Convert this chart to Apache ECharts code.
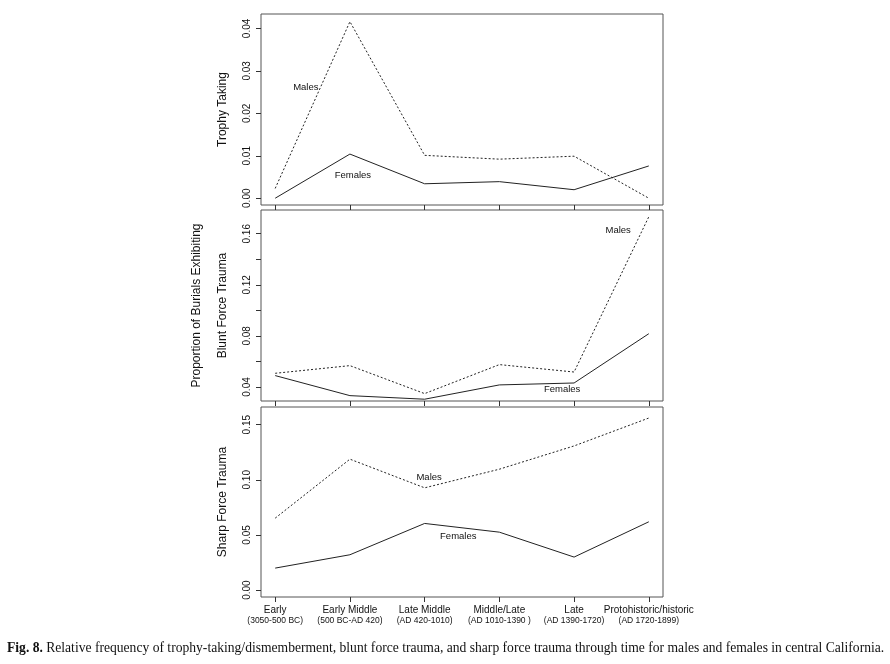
<!DOCTYPE html>
<html><head><meta charset="utf-8">
<script src="https://cdn.jsdelivr.net/npm/echarts@6/dist/echarts.min.js"></script>
<style>html,body{margin:0;padding:0;background:#fff}#c{width:890px;height:664px}</style>
</head><body><div id="c"></div>
<script>
const periods = ['Early','Early Middle','Late Middle','Middle/Late','Late','Protohistoric/historic'];
const periodDates = ['(3050-500 BC)','(500 BC-AD 420)','(AD 420-1010)','(AD 1010-1390 )','(AD 1390-1720)','(AD 1720-1899)'];

const trophyMales   = [0.0023, 0.0416, 0.0101, 0.0092, 0.0099, 0.0000];
const trophyFemales = [0.0000, 0.0104, 0.0034, 0.0039, 0.0020, 0.0076];

const bluntMales    = [0.0507, 0.0567, 0.0348, 0.0575, 0.0517, 0.1733];
const bluntFemales  = [0.0489, 0.0332, 0.0304, 0.0416, 0.0431, 0.0817];

const sharpMales    = [0.0652, 0.1187, 0.0927, 0.1096, 0.1307, 0.1560];
const sharpFemales  = [0.0199, 0.0320, 0.0604, 0.0525, 0.0299, 0.0619];

const trophyTicks = [0, 0.01, 0.02, 0.03, 0.04];
const bluntTicks  = [0.04, 0.06, 0.08, 0.10, 0.12, 0.14, 0.16];
const bluntLabels = [0.04, 0.08, 0.12, 0.16];
const sharpTicks  = [0, 0.05, 0.10, 0.15];

// annotation anchors in data units [periodIndex, value]
const trophyMaleLbl = [0.41, 0.026],  trophyFemaleLbl = [1.04, 0.0053];
const bluntMaleLbl  = [4.59, 0.1624], bluntFemaleLbl  = [3.84, 0.0379];
const sharpMaleLbl  = [2.06, 0.102],  sharpFemaleLbl  = [2.45, 0.0483];

const FONT = 'Liberation Sans';
const ink = '#222';
const idx = periods.map((_, i) => i);

const grids = [
  {left: 261, right: 227, top: 14, height: 191},
  {left: 261, right: 227, top: 210, height: 191},
  {left: 261, right: 227, top: 407, height: 190}
];
const gridStyle = {show: true, borderColor: '#555', borderWidth: 1, backgroundColor: 'transparent'};

function xAxis(gi, labels, fontSize, margin, ticks) {
  return {
    type: 'value', gridIndex: gi, min: -0.19, max: 5.19, position: 'bottom',
    axisLine: {show: false, onZero: false}, splitLine: {show: false},
    axisTick: {show: ticks, length: 5, customValues: idx, lineStyle: {color: '#333'}},
    axisLabel: labels ? {
      show: true, customValues: idx, margin: margin, hideOverlap: false,
      showMinLabel: true, showMaxLabel: true,
      fontFamily: FONT, fontSize: fontSize, color: '#111',
      formatter: v => labels[Math.round(v)]
    } : {show: false}
  };
}
function yAxis(gi, min, max, ticks, labels, name, nameGap, digits) {
  return {
    type: 'value', gridIndex: gi, min: min, max: max,
    axisLine: {show: false, onZero: false}, splitLine: {show: false},
    axisTick: {show: true, length: 5, customValues: ticks, lineStyle: {color: '#333'}},
    axisLabel: {show: true, customValues: labels, rotate: 90, margin: 9,
      hideOverlap: false, showMinLabel: true, showMaxLabel: true,
      fontFamily: FONT, fontSize: 10, color: '#111',
      formatter: v => v.toFixed(digits)},
    name: name, nameLocation: 'middle', nameRotate: 90, nameGap: nameGap,
    nameMoveOverlap: false,
    nameTextStyle: {fontFamily: FONT, fontSize: 12, color: '#111', lineHeight: 26}
  };
}
function pairs(arr) { return arr.map((v, i) => [i, v]); }
function series(gi, data, dotted, lbl, text) {
  return {
    type: 'line', xAxisIndex: gi, yAxisIndex: gi, data: pairs(data),
    symbol: 'none', silent: true, animation: false,
    lineStyle: {color: ink, width: 1, type: dotted ? [2, 2] : 'solid'},
    markPoint: {
      symbol: 'circle', symbolSize: 0, silent: true, animation: false,
      label: {show: true, position: 'inside', formatter: text,
        fontFamily: FONT, fontSize: 9.5, color: '#111'},
      data: [{coord: lbl}]
    }
  };
}

const chart = echarts.init(document.getElementById('c'), null, {renderer: 'canvas'});
chart.setOption({
  animation: false,
  backgroundColor: '#fff',
  grid: grids.map(g => Object.assign({}, g, gridStyle)),
  xAxis: [
    xAxis(0, null, 10, 8, true),
    xAxis(1, null, 10, 8, true),
    xAxis(2, periods, 10, 8, true),
    xAxis(2, periodDates, 8.5, 19, false)
  ],
  yAxis: [
    yAxis(0, -0.0016, 0.0434, trophyTicks, trophyTicks, 'Trophy Taking', 25, 2),
    yAxis(1, 0.029, 0.1786, bluntTicks, bluntLabels, 'Proportion of Burials Exhibiting\nBlunt Force Trauma', 25, 2),
    yAxis(2, -0.0063, 0.166, sharpTicks, sharpTicks, 'Sharp Force Trauma', 25, 2)
  ],
  series: [
    series(0, trophyMales, true, trophyMaleLbl, 'Males'),
    series(0, trophyFemales, false, trophyFemaleLbl, 'Females'),
    series(1, bluntMales, true, bluntMaleLbl, 'Males'),
    series(1, bluntFemales, false, bluntFemaleLbl, 'Females'),
    series(2, sharpMales, true, sharpMaleLbl, 'Males'),
    series(2, sharpFemales, false, sharpFemaleLbl, 'Females')
  ],
  graphic: [{
    type: 'text', left: 7, top: 641,
    style: {
      text: '{b|Fig. 8.} {r|Relative frequency of trophy-taking/dismemberment, blunt force trauma, and sharp force trauma through time for males and females in central California.}',
      rich: {
        b: {fontFamily: 'Liberation Serif', fontWeight: 'bold', fontSize: 13.6, fill: '#111'},
        r: {fontFamily: 'Liberation Serif', fontSize: 13.6, fill: '#111'}
      }
    }
  }]
});
</script></body></html>
